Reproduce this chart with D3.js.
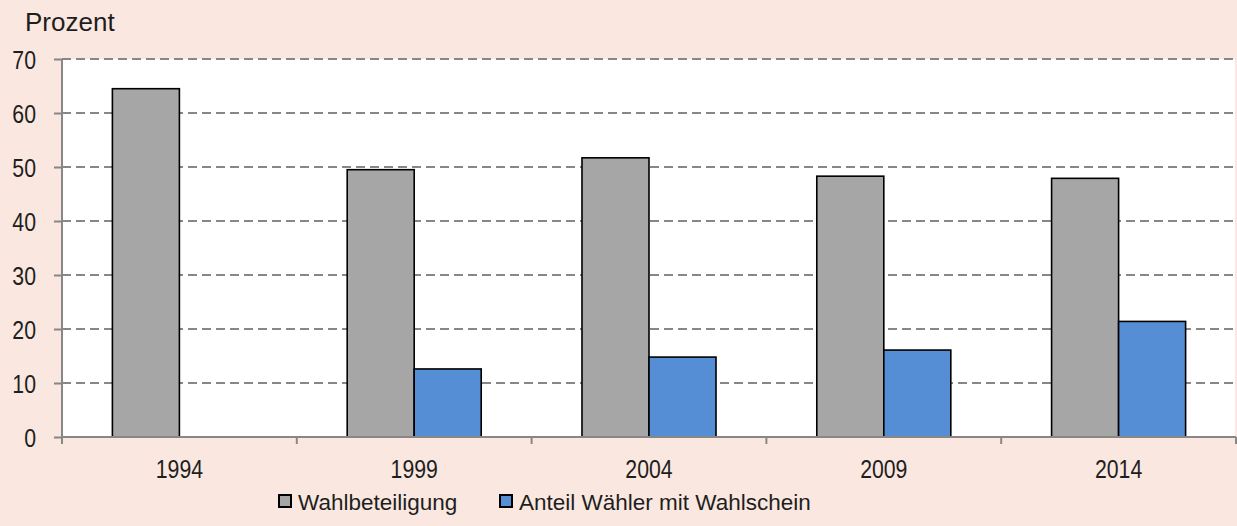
<!DOCTYPE html>
<html><head><meta charset="utf-8">
<script src="https://cdn.jsdelivr.net/npm/d3@7"></script>
<style>
html,body{margin:0;padding:0;background:#FAE8E0;}
svg{display:block;}
text{font-family:"Liberation Sans",Arial,sans-serif;fill:#1e1e1e;}
</style></head>
<body>
<svg id="c" width="1237" height="526"></svg>
<script>
const years = ["1994","1999","2004","2009","2014"];
const seriesNames = ["Wahlbeteiligung","Anteil Wähler mit Wahlschein"];
const wahlbeteiligung = [64.5, 49.5, 51.7, 48.3, 47.9];
const anteilWahlschein = [null, 12.6, 14.8, 16.1, 21.4];
const yTicks = [0,10,20,30,40,50,60,70];
const colors = ["#A6A6A6","#558ED5"];

const svg = d3.select("#c");
const L = 62, R = 1236, T = 59, B = 437;
const SX = 0.85;

const x0 = d3.scaleBand().domain(years).range([L, R]).paddingInner(0).paddingOuter(0);
const x1 = d3.scaleBand().domain(seriesNames).range([0, x0.bandwidth()]).paddingInner(0).paddingOuter(0.752);
const y = d3.scaleLinear().domain([0,70]).range([B, T]);

svg.append("rect").attr("x", L).attr("y", T).attr("width", R - L - 1).attr("height", B - T).attr("fill", "#fff");

// gridlines
svg.append("g").selectAll("line").data(yTicks.filter(d => d > 0)).join("line")
  .attr("x1", L).attr("x2", R).attr("y1", d => y(d)).attr("y2", d => y(d))
  .attr("stroke", "#878787").attr("stroke-width", 2).attr("stroke-dasharray", "9,5");

// bars
const data = [];
years.forEach((yr, i) => {
  [wahlbeteiligung[i], anteilWahlschein[i]].forEach((v, j) => {
    if (v != null) data.push({yr, s: seriesNames[j], v, c: colors[j]});
  });
});
svg.append("g").selectAll("rect").data(data).join("rect")
  .attr("x", d => x0(d.yr) + x1(d.s))
  .attr("y", d => y(d.v))
  .attr("width", x1.bandwidth())
  .attr("height", d => B - y(d.v))
  .attr("fill", d => d.c)
  .attr("stroke", "#000").attr("stroke-width", 1.6);

// y axis
const yAxis = d3.axisLeft(y).tickValues(yTicks).tickSize(8).tickPadding(18);
const gy = svg.append("g").attr("transform", `translate(${L},0)`).call(yAxis);
gy.select(".domain").attr("stroke", "#878787").attr("stroke-width", 2).attr("d", `M0,${T}V${B}`);
gy.selectAll(".tick line").attr("stroke", "#878787").attr("stroke-width", 2);
gy.selectAll(".tick text").attr("x", 0).attr("transform", `translate(-26,0) scale(${SX},1)`)
  .attr("font-size", 25).attr("font-family", "Liberation Sans, Arial, sans-serif").attr("fill", "#1e1e1e").attr("dy", "0.36em");

// x axis
const gx = svg.append("g").attr("transform", `translate(0,${B})`);
gx.append("line").attr("x1", L).attr("x2", R).attr("stroke", "#878787").attr("stroke-width", 2);
gx.selectAll("line.tk").data(years.concat(["end"])).join("line").attr("class","tk")
  .attr("x1", (d,i) => L + i * x0.step()).attr("x2", (d,i) => L + i * x0.step())
  .attr("y1", 0).attr("y2", 7).attr("stroke", "#878787").attr("stroke-width", 2);
gx.selectAll("text").data(years).join("text")
  .attr("transform", d => `translate(${x0(d) + x0.bandwidth()/2},41) scale(${SX},1)`)
  .attr("text-anchor", "middle").attr("font-size", 25).text(d => d);

// y title
svg.append("text").attr("x", 25).attr("y", 31).attr("font-size", 26).text("Prozent");

// legend
const leg = svg.append("g");
const legItems = [{n: seriesNames[0], c: colors[0], x: 278}, {n: seriesNames[1], c: colors[1], x: 499}];
legItems.forEach(it => {
  leg.append("rect").attr("x", it.x + 1).attr("y", 495).attr("width", 12).attr("height", 12)
    .attr("fill", it.c).attr("stroke", "#000").attr("stroke-width", 2);
  leg.append("text").attr("x", it.x + 20).attr("y", 510).attr("font-size", 22.5).text(it.n);
});
</script>
</body></html>
